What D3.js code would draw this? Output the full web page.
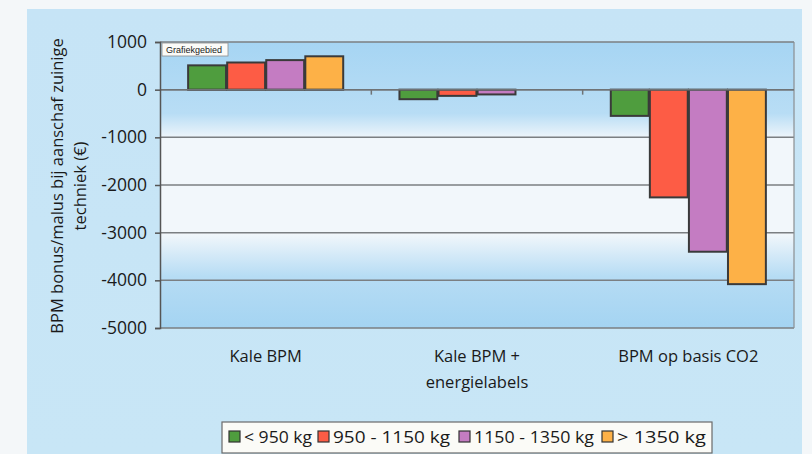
<!DOCTYPE html>
<html>
<head>
<meta charset="utf-8">
<script src="https://cdn.jsdelivr.net/npm/d3@7/dist/d3.min.js"></script>
<style>
  html, body { margin: 0; padding: 0; background: #f4f7f9; }
  svg { display: block; }
  text { font-family: "Open Sans", "Noto Sans", sans-serif; fill: #1a1a1a; }
</style>
</head>
<body>
<svg id="chart" width="812" height="454"></svg>
<script>
// Categories (x groups) and weight classes (series)
const categories = ["Kale BPM", "Kale BPM +\nenergielabels", "BPM op basis CO2"];
const seriesNames = ["< 950 kg", "950 - 1150 kg", "1150 - 1350 kg", "> 1350 kg"];
const seriesColors = ["#4f9d3e", "#fd5c45", "#c47cc2", "#fdb147"];

// BPM bonus/malus per category, one array per weight class
const lt950     = [510, -200, -550];
const w950_1150 = [570, -130, -2260];
const w1150_1350 = [620, -100, -3400];
const gt1350    = [700, 0, -4080];

const yTicks = [1000, 0, -1000, -2000, -3000, -4000, -5000];
const yTitleLines = ["BPM bonus/malus bij aanschaf zuinige", "techniek (€)"];

const seriesValues = [lt950, w950_1150, w1150_1350, gt1350];

const svg = d3.select("#chart");
const defs = svg.append("defs");

// Outer panel gradient
const outerGrad = defs.append("linearGradient").attr("id", "outerGrad")
  .attr("x1", 0).attr("y1", 0).attr("x2", 0).attr("y2", 1);
outerGrad.append("stop").attr("offset", "0%").attr("stop-color", "#c6e4f6");
outerGrad.append("stop").attr("offset", "100%").attr("stop-color", "#c8e6f6");

// Plot area gradient: blue at top and bottom, near white in the middle
const plotGrad = defs.append("linearGradient").attr("id", "plotGrad")
  .attr("x1", 0).attr("y1", 0).attr("x2", 0).attr("y2", 1);
[["0%", "#a6d5f3"], ["25%", "#b8ddf5"], ["34%", "#f2f7fb"], ["67%", "#f2f7fb"],
 ["82%", "#b6dcf4"], ["100%", "#a4d4f2"]].forEach(([o, c]) =>
  plotGrad.append("stop").attr("offset", o).attr("stop-color", c));

svg.append("rect").attr("x", 27).attr("y", 9).attr("width", 775).attr("height", 445)
  .attr("fill", "url(#outerGrad)");

const plot = { left: 160, right: 794, top: 42, bottom: 328 };

const y = d3.scaleLinear().domain([-5000, 1000]).range([plot.bottom, plot.top]);
const x0 = d3.scaleBand().domain(d3.range(categories.length))
  .range([plot.left, plot.right]).paddingInner(0).paddingOuter(0);
const x1 = d3.scaleBand().domain(d3.range(seriesNames.length))
  .range([0, x0.bandwidth()]).paddingOuter(0.72).paddingInner(0.03);

// Plot background
svg.append("rect").attr("x", plot.left).attr("y", plot.top)
  .attr("width", plot.right - plot.left).attr("height", plot.bottom - plot.top)
  .attr("fill", "url(#plotGrad)");

// Horizontal grid lines
svg.append("g").selectAll("line").data(yTicks).join("line")
  .attr("x1", plot.left).attr("x2", plot.right)
  .attr("y1", d => y(d)).attr("y2", d => y(d))
  .attr("stroke", "#7b7f82").attr("stroke-width", 1.5);

// Right border
svg.append("line").attr("x1", plot.right).attr("x2", plot.right)
  .attr("y1", plot.top).attr("y2", plot.bottom)
  .attr("stroke", "#8a8e91").attr("stroke-width", 1.2);

// Bars
const groups = svg.append("g").selectAll("g").data(categories).join("g")
  .attr("transform", (d, i) => `translate(${x0(i)},0)`);
groups.selectAll("rect")
  .data((d, i) => seriesValues.map((vals, s) => ({ s, v: vals[i] })).filter(e => e.v !== 0))
  .join("rect")
  .attr("x", e => x1(e.s))
  .attr("width", x1.bandwidth())
  .attr("y", e => Math.min(y(e.v), y(0)))
  .attr("height", e => Math.abs(y(e.v) - y(0)))
  .attr("fill", e => seriesColors[e.s])
  .attr("stroke", "#3a3a3a").attr("stroke-width", 2);

// Zero axis line with category boundary ticks
svg.append("line").attr("x1", plot.left).attr("x2", plot.right)
  .attr("y1", y(0)).attr("y2", y(0))
  .attr("stroke", "#6f7376").attr("stroke-width", 1.5);
svg.append("g").selectAll("line").data(d3.range(1, categories.length)).join("line")
  .attr("x1", i => x0(i)).attr("x2", i => x0(i))
  .attr("y1", y(0)).attr("y2", y(0) + 5)
  .attr("stroke", "#6f7376").attr("stroke-width", 1.5);

// Y axis
const yAxis = d3.axisLeft(y).tickValues(yTicks).tickSize(5).tickPadding(8)
  .tickFormat(d3.format("d"));
const yg = svg.append("g").attr("transform", `translate(${plot.left},0)`).call(yAxis);
yg.select(".domain").attr("stroke", "#555").attr("stroke-width", 1.5);
yg.selectAll(".tick line").attr("stroke", "#555").attr("stroke-width", 1.5);
yg.selectAll(".tick text")
  .style("font-family", "'Open Sans', sans-serif").style("font-size", "17.5px")
  .attr("fill", "#1a1a1a").text(d => d < 0 ? "-" + Math.abs(d) : d);

// Y axis title
const yTitle = svg.append("text")
  .attr("transform", "translate(57,186) rotate(-90)")
  .attr("text-anchor", "middle").style("font-size", "16.5px").attr("fill", "#333");
yTitle.selectAll("tspan").data(yTitleLines).join("tspan")
  .attr("x", 0).attr("dy", (d, i) => i === 0 ? "0.35em" : "23px").text(d => d);

// Category labels
const catLabels = svg.append("g").selectAll("text").data(categories).join("text")
  .attr("x", (d, i) => x0(i) + x0.bandwidth() / 2)
  .attr("y", 362).attr("text-anchor", "middle").style("font-size", "16.5px");
catLabels.selectAll("tspan").data(d => d.split("\n")).join("tspan")
  .attr("x", function () { return this.parentNode.getAttribute("x"); })
  .attr("dy", (d, i) => i === 0 ? 0 : 26).text(d => d);

// Chart-area tag in the top-left corner of the plot
const tag = svg.append("g").attr("transform", `translate(${plot.left + 2},${plot.top + 1})`);
tag.append("rect").attr("width", 66).attr("height", 13)
  .attr("fill", "#fbfbf8").attr("stroke", "#8d8d8d").attr("stroke-width", 0.8);
tag.append("text").attr("x", 4).attr("y", 10)
  .style("font-family", "'Liberation Sans', Arial, sans-serif").style("font-size", "9px")
  .attr("fill", "#333").text("Grafiekgebied");

// Legend
const legend = svg.append("g");
legend.append("rect").attr("x", 222).attr("y", 422).attr("width", 490).attr("height", 31)
  .attr("fill", "#fbfbf7").attr("stroke", "#6a6a6a").attr("stroke-width", 1.2);
const legendX = [229, 318, 459, 602];
const legendW = [68, 117, 120, 89];
const items = legend.selectAll("g.item").data(seriesNames).join("g").attr("class", "item")
  .attr("transform", (d, i) => `translate(${legendX[i]},431)`);
items.append("rect").attr("width", 11).attr("height", 11)
  .attr("fill", (d, i) => seriesColors[i]).attr("stroke", "#333").attr("stroke-width", 1.2);
items.append("text").attr("x", 15).attr("y", 11.5)
  .style("font-size", "17px")
  .attr("textLength", (d, i) => legendW[i]).attr("lengthAdjust", "spacingAndGlyphs")
  .text(d => d);
</script>
</body>
</html>
